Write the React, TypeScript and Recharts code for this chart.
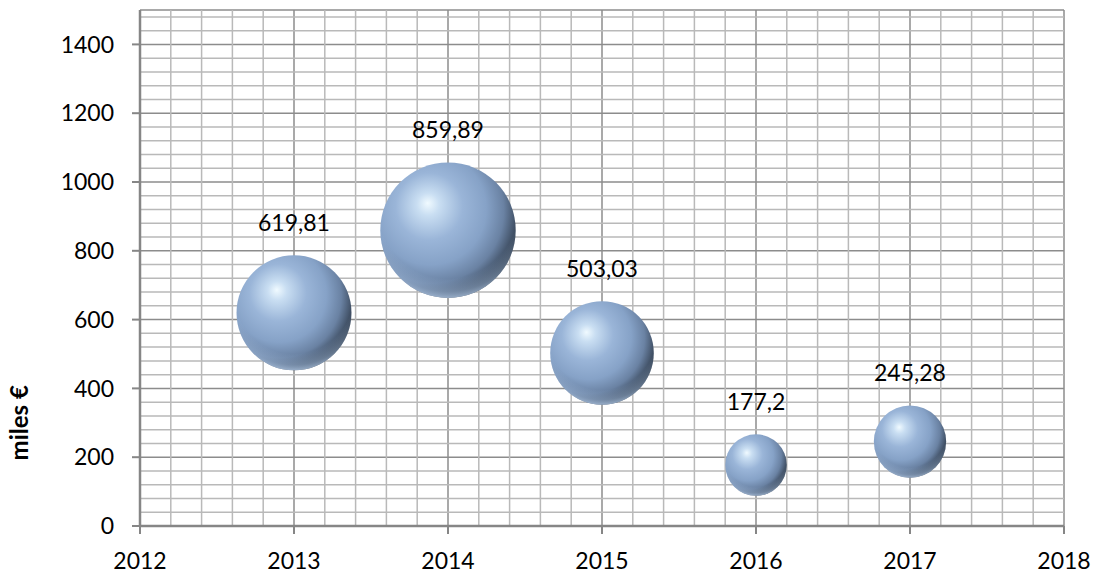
import {
  ScatterChart,
  Scatter,
  XAxis,
  YAxis,
  ZAxis,
  CartesianGrid,
  ReferenceLine,
} from 'recharts'

const years = [2013, 2014, 2015, 2016, 2017]
const amounts = [619.81, 859.89, 503.03, 177.2, 245.28]

const xTicks = [2012, 2013, 2014, 2015, 2016, 2017, 2018]
const yTicks = [0, 200, 400, 600, 800, 1000, 1200, 1400]

// minor gridlines: 5 per year, 5 per 200 (major positions left out)
const xMinor = Array.from({ length: 31 }, (_, i) => Math.round((2012 + i * 0.2) * 10) / 10).filter(
  (v) => !Number.isInteger(v)
)
const yMinor = Array.from({ length: 38 }, (_, i) => i * 40).filter((v) => v % 200 !== 0)

const data = years.map((year, i) => ({ year, amount: amounts[i], size: amounts[i] }))

const FONT = 'Lato, "Open Sans", sans-serif'
const AXIS = '#868686'
const MINOR = '#b9b9b9'

const formatValue = (v: number) => String(v).replace('.', ',')

function Sphere(props: any) {
  const { cx, cy, size, payload } = props
  const r = Math.sqrt(size / Math.PI)
  return (
    <g>
      <circle cx={cx} cy={cy} r={r} fill="url(#sphereBody)" />
      <circle cx={cx} cy={cy} r={r} fill="url(#sphereRim)" />
      <text
        x={cx}
        y={cy - r - 33}
        textAnchor="middle"
        dominantBaseline="central"
        fontFamily={FONT}
        fontSize={23}
        fill="#000"
      >
        {formatValue(payload.amount)}
      </text>
    </g>
  )
}

function AxisTitle(props: any) {
  const { viewBox } = props
  const x = viewBox.x + 19
  const y = viewBox.y + viewBox.height * 0.8
  return (
    <text
      x={x}
      y={y}
      transform={`rotate(-90 ${x} ${y})`}
      textAnchor="middle"
      dominantBaseline="central"
      fontFamily={FONT}
      fontWeight="bold"
      fontSize={24}
      fill="#000"
    >
      miles €
    </text>
  )
}

export default function App() {
  return (
    <div style={{ position: 'absolute', left: 0, top: 0, width: 1097, height: 576, background: '#fff' }}>
      <ScatterChart width={1097} height={576} margin={{ top: 10, right: 33, left: 0, bottom: 0 }}>
        <defs>
          <radialGradient id="sphereBody" cx="38%" cy="37%" r="69%" fx="35%" fy="30%">
            <stop offset="0%" stopColor="#f0faff" />
            <stop offset="12%" stopColor="#c9def2" />
            <stop offset="36%" stopColor="#9ab5d8" />
            <stop offset="60%" stopColor="#86a2c7" />
            <stop offset="78%" stopColor="#6a82a3" />
            <stop offset="92%" stopColor="#3d4c60" />
            <stop offset="100%" stopColor="#202a36" />
          </radialGradient>
          <radialGradient id="sphereRim" cx="50%" cy="34%" r="68%">
            <stop offset="76%" stopColor="#a9c3e4" stopOpacity={0} />
            <stop offset="90%" stopColor="#a9c3e4" stopOpacity={0.45} />
            <stop offset="100%" stopColor="#bcd3ef" stopOpacity={0.9} />
          </radialGradient>
        </defs>
        <CartesianGrid stroke="#8c8c8c" strokeWidth={1.5} />
        {yMinor.map((v) => (
          <ReferenceLine key={`y${v}`} y={v} stroke={MINOR} strokeWidth={1.5} zIndex={-50} />
        ))}
        {xMinor.map((v) => (
          <ReferenceLine key={`x${v}`} x={v} stroke={MINOR} strokeWidth={1.5} zIndex={-50} />
        ))}
        <XAxis
          type="number"
          dataKey="year"
          domain={[2012, 2018]}
          ticks={xTicks}
          allowDecimals={false}
          height={50}
          tickSize={8}
          tickMargin={19}
          axisLine={{ stroke: AXIS, strokeWidth: 2.5 }}
          tickLine={{ stroke: AXIS, strokeWidth: 2 }}
          tick={{ fontSize: 23, fill: '#000', fontFamily: FONT }}
        />
        <YAxis
          type="number"
          dataKey="amount"
          domain={[0, 1500]}
          ticks={yTicks}
          width={140}
          tickSize={8}
          tickMargin={18}
          axisLine={{ stroke: AXIS, strokeWidth: 2.5 }}
          tickLine={{ stroke: AXIS, strokeWidth: 2 }}
          tick={{ fontSize: 23, fill: '#000', fontFamily: FONT }}
          label={<AxisTitle />}
        />
        <ZAxis type="number" dataKey="size" domain={[0, 859.89]} range={[0, 14400]} />
        <Scatter data={data} shape={<Sphere />} isAnimationActive={false} />
      </ScatterChart>
    </div>
  )
}
